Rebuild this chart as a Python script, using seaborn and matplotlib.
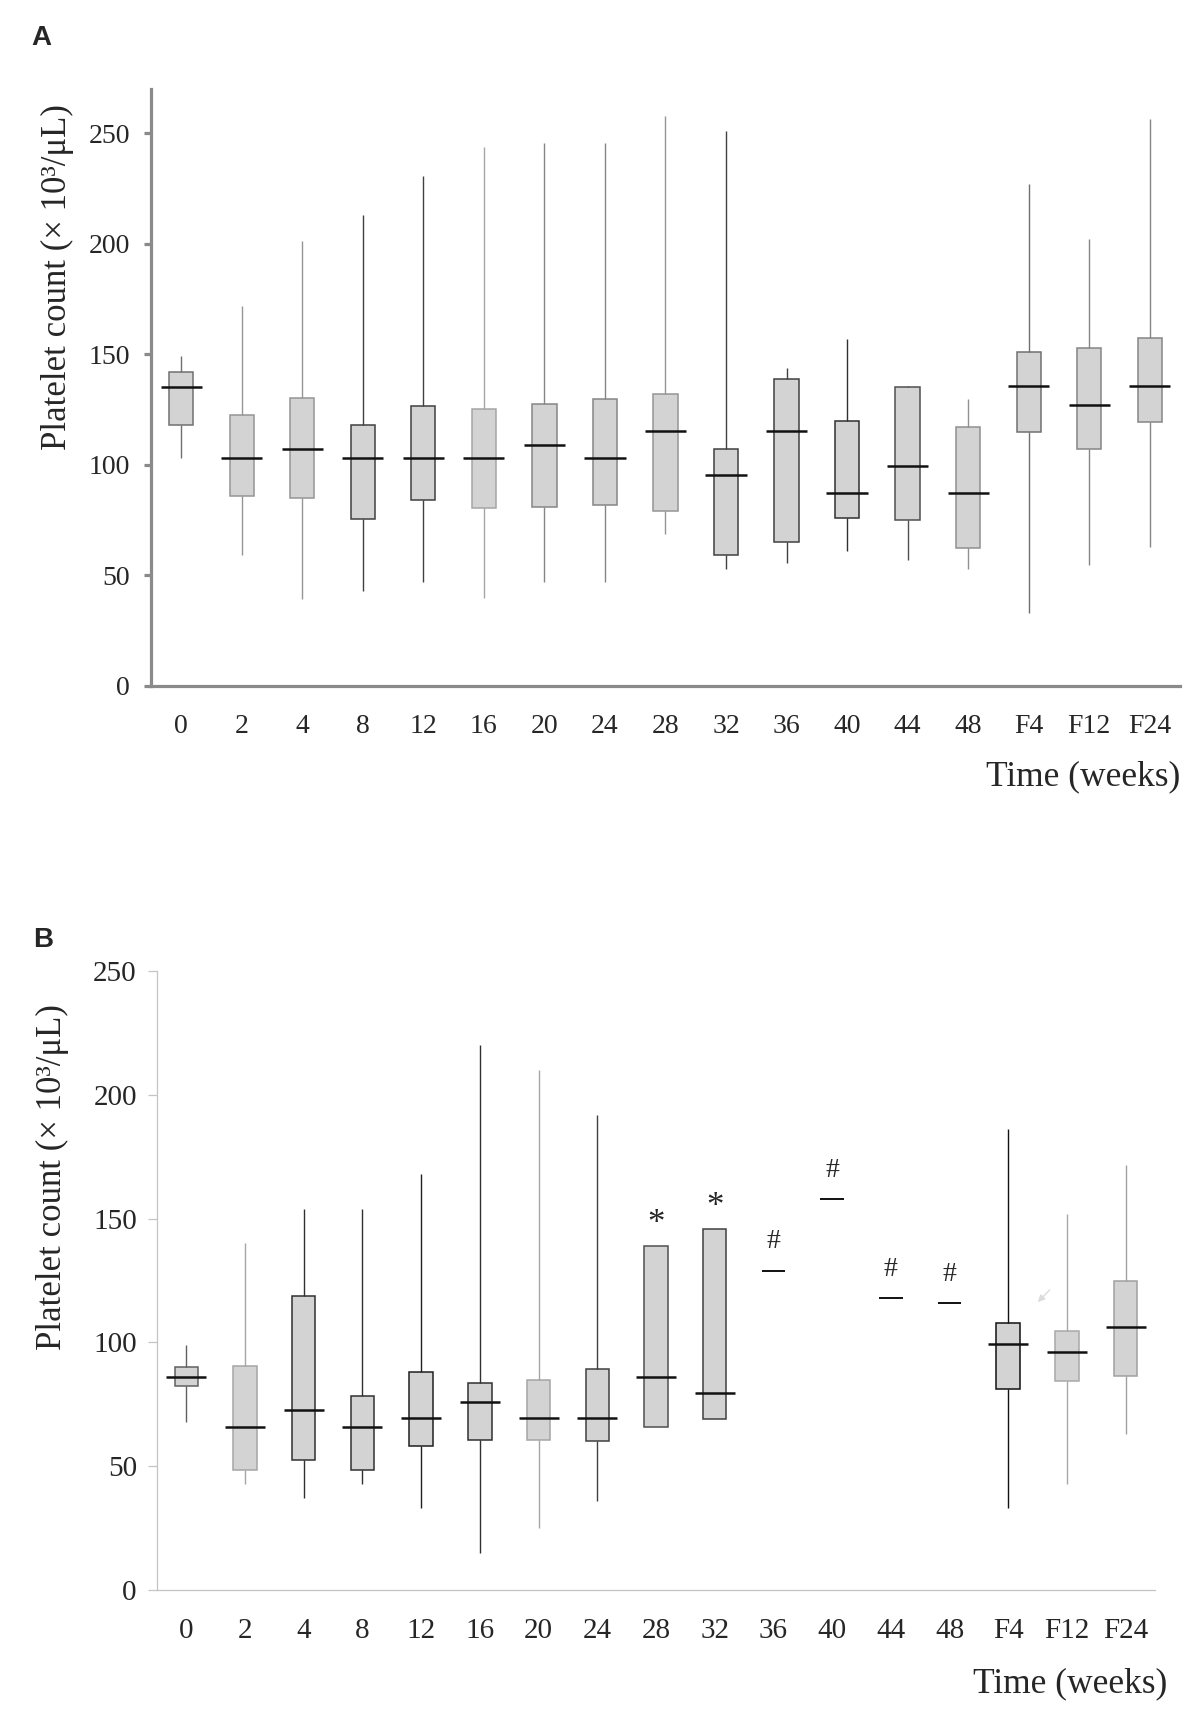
import numpy as np
import pandas as pd
import matplotlib
matplotlib.use('Agg')
import matplotlib.pyplot as plt
import seaborn as sns

weeks = ['0', '2', '4', '8', '12', '16', '20', '24', '28', '32', '36', '40', '44', '48', 'F4', 'F12', 'F24']

# Panel A: five-number summaries (min, Q1, median, Q3, max)
a_min = [103, 59, 39.5, 43, 47, 40, 47, 47, 68.5, 53, 55.5, 61, 57, 53, 33, 54.5, 63]
a_q1 = [118, 86, 85, 75.3, 84, 80.5, 81, 82, 79, 59, 65.3, 76, 75, 62.3, 115, 107, 119.3]
a_med = [135, 103, 107.3, 103, 103, 103, 108.8, 103, 115.4, 95.4, 115.4, 87.3, 99.4, 87.3, 135.5, 127, 135.5]
a_q3 = [142, 122.5, 130.2, 118, 126.5, 125.2, 127.7, 129.8, 132, 107.2, 139, 119.8, 135.4, 117, 151, 152.7, 157.5]
a_max = [149, 172, 201.3, 213, 230.8, 243.7, 245.6, 245.6, 257.7, 251, 144, 157, 135.8, 130, 227, 202.2, 256.6]

# Panel B (weeks 36-48: single values only)
nan = np.nan
b_min = [68, 43, 37, 43, 33, 15, 25, 36, 66, 69, nan, nan, nan, nan, 33, 43, 63]
b_q1 = [82.6, 48.3, 52.4, 48.3, 58, 60.6, 60.6, 60, 66, 69, nan, nan, nan, nan, 81, 84.5, 86.4]
b_med = [86, 66, 72.7, 66, 69.3, 76, 69.3, 69.3, 86, 79.4, 129, 158, 118, 116, 99.3, 96.2, 106.3]
b_q3 = [89.9, 90.6, 118.9, 78.5, 88, 83.8, 84.8, 89.1, 139, 146, nan, nan, nan, nan, 108, 104.6, 125]
b_max = [99, 140, 154, 154, 168, 220, 210, 192, 139, 146, nan, nan, nan, nan, 186, 152, 171.5]
b_marks = ['', '', '', '', '', '', '', '', '*', '*', '#', '#', '#', '#', '', '', '']

# line shades per box (as in the original figure)
a_lines = ['#707070', '#959595', '#959595', '#404040', '#404040', '#a5a5a5', '#858585', '#858585', '#959595',
           '#404040', '#404040', '#303030', '#505050', '#909090', '#707070', '#858585', '#858585']
b_lines = ['#606060', '#a5a5a5', '#303030', '#303030', '#202020', '#303030', '#a5a5a5', '#404040', '#505050',
           '#404040', '#111111', '#111111', '#111111', '#111111', '#111111', '#a8a8a8', '#a0a0a0']


def long_table(mins, q1s, meds, q3s, maxs):
    rows = []
    for w, lo, a, m, b, hi in zip(weeks, mins, q1s, meds, q3s, maxs):
        vals = [v for v in (lo, a, m, b, hi) if not np.isnan(v)]
        rows += [(w, v) for v in vals]
    return pd.DataFrame(rows, columns=['week', 'count'])


def draw_boxes(ax, df, line_colors):
    sns.boxplot(data=df, x='week', y='count', order=weeks, whis=(0, 100), width=0.4,
                color='#d3d3d3', saturation=1, showcaps=False, showfliers=False,
                linewidth=1.1, ax=ax)
    box = ax.containers[0]
    for i, patch in enumerate(box.boxes):
        patch.set_facecolor('#d3d3d3')
        patch.set_edgecolor(line_colors[i])
    for i, wl in enumerate(box.whiskers):
        wl.set_color(line_colors[i // 2])
        wl.set_linewidth(1.0)
    for i, med in enumerate(box.medians):
        med.set_color('#111111')
        vals = df.loc[df['week'] == weeks[i], 'count']
        if vals.max() > vals.min():
            med.set_linewidth(1.8)
            c = np.mean(med.get_xdata())
            med.set_xdata([c - 0.34, c + 0.34])
        else:
            med.set_linewidth(1.3)


sns.set_style('white')
plt.rcParams['font.family'] = ['Liberation Serif', 'DejaVu Serif']

fig = plt.figure(figsize=(12, 17.14), dpi=100)
ax1 = fig.add_axes([0.1258, 0.5998, 0.8575, 0.3483])
ax2 = fig.add_axes([0.1308, 0.0723, 0.8317, 0.3612])

df_a = long_table(a_min, a_q1, a_med, a_q3, a_max)
df_b = long_table(b_min, b_q1, b_med, b_q3, b_max)
draw_boxes(ax1, df_a, a_lines)
draw_boxes(ax2, df_b, b_lines)

ax1.set_ylim(0, 270)
ax1.set_yticks([0, 50, 100, 150, 200, 250])
for ax, spine_c, spine_w, tick_len, fs, ypad in [(ax1, '#8a8a8a', 2.3, 5, 20, 10),
                                                 (ax2, '#c4c4c4', 0.9, 6.5, 21, 8)]:
    ax.set_xlim(-0.5, 16.5)
    sns.despine(ax=ax)
    for s in ['left', 'bottom']:
        ax.spines[s].set_color(spine_c)
        ax.spines[s].set_linewidth(spine_w)
    ax.set_xticks(range(len(weeks)))
    ax.set_xticklabels(weeks)
    ax.set_xticks(np.arange(-0.5, len(weeks), 1), minor=True)
    ax.tick_params(axis='x', which='major', length=0, pad=20, labelsize=fs)
    ax.tick_params(axis='x', which='minor', length=tick_len, width=spine_w, color=spine_c, direction='out')
    ax.tick_params(axis='y', which='major', length=tick_len, width=spine_w, color=spine_c,
                   direction='out', left=True, pad=ypad, labelsize=fs)
    ax.set_xlabel('Time (weeks)', fontsize=25.5)
    ax.xaxis.label.set_ha('right')
    ax.xaxis.label.set_va('center')
    ax.set_ylabel('Platelet count (× 10³/μL)', fontsize=25)
    ax.yaxis.label.set_va('center')

ax2.set_ylim(0, 250)
ax2.set_yticks([0, 50, 100, 150, 200, 250])

ax1.xaxis.set_label_coords(1.0, -0.152)
ax2.xaxis.set_label_coords(1.012, -0.152)
ax1.yaxis.set_label_coords(-0.091, 0.685)
ax2.yaxis.set_label_coords(-0.105, 0.667)

# significance marks above panel B
for i, m in enumerate(b_marks):
    if not m:
        continue
    top = np.nanmax([b_max[i], b_med[i]])
    if m == '*':
        ax2.text(i, top + 5, m, ha='center', va='baseline', fontsize=25)
    else:
        ax2.text(i, top + 9, m, ha='center', va='baseline', fontsize=20)

# faint arrow between F4 and F12
ax2.annotate('', xy=(14.47, 115.5), xytext=(14.74, 122),
             arrowprops=dict(arrowstyle='-|>', color='#dcdcdc', lw=1.0))

fig.text(0.026, 0.978, 'A', fontfamily='Liberation Sans', fontweight='bold', fontsize=20, va='center')
fig.text(0.0275, 0.4516, 'B', fontfamily='Liberation Sans', fontweight='bold', fontsize=20, va='center')

fig.savefig('out.png', dpi=100)
